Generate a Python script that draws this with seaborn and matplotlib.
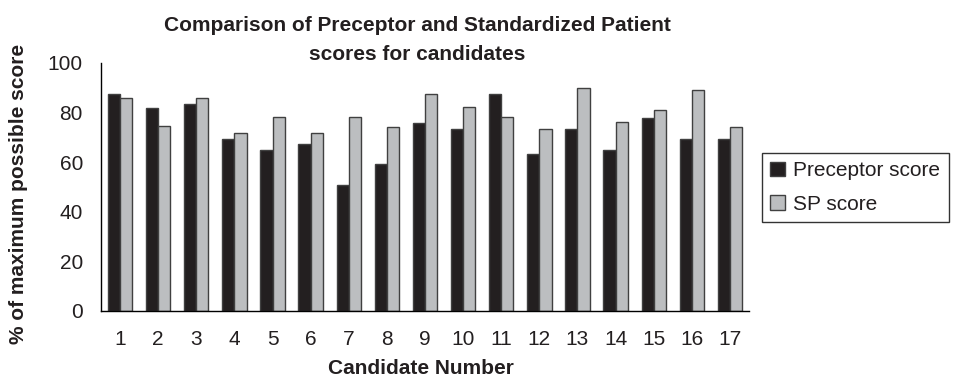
import matplotlib
matplotlib.use("Agg")
import matplotlib.pyplot as plt
import seaborn as sns
import pandas as pd
import numpy as np
from matplotlib.patches import Patch

candidates = [str(i) for i in range(1, 18)]
preceptor = [87.6, 81.7, 83.6, 69.4, 65.1, 67.4, 50.9, 59.4, 75.9, 73.5, 87.6, 63.4, 73.5, 65.1, 77.7, 69.4, 69.4]
sp = [85.7, 74.4, 85.7, 71.9, 78.1, 71.9, 78.1, 74.3, 87.5, 82.1, 78.1, 73.4, 89.8, 76.4, 81.2, 89.0, 74.3]
series = ["Preceptor score", "SP score"]
colors = ["#231f20", "#bcbec0"]

df = pd.DataFrame({
    "Candidate": candidates * 2,
    "Score": preceptor + sp,
    "Series": [series[0]] * len(candidates) + [series[1]] * len(candidates),
})

sns.set_style("white")
plt.rcParams["font.family"] = ["Liberation Sans", "DejaVu Sans"]

fig = plt.figure(figsize=(9.58, 3.79), dpi=100)
ax = fig.add_axes([101/958, 1-311/379, (749-101)/958, (311-63)/379])

sns.barplot(data=df, x="Candidate", y="Score", hue="Series", order=candidates,
            hue_order=series, palette=colors, width=0.64, dodge=True,
            edgecolor="#404040", linewidth=1.0, ax=ax, legend=False, saturation=1)

ax.set_ylim(0, 100)
ax.set_xlim(-0.5, 16.5)
ax.set_yticks([0, 20, 40, 60, 80, 100])
ax.tick_params(axis="y", which="major", direction="out", length=5, width=1, color="black",
               labelsize=15, pad=8, labelcolor="#231f20")
ax.tick_params(axis="x", which="major", length=0, labelsize=15, pad=14, labelcolor="#231f20")
ax.set_xticks(np.arange(-0.5, 17, 1), minor=True)
ax.tick_params(axis="x", which="minor", direction="out", length=5, width=1, color="black")

for s in ["top", "right"]:
    ax.spines[s].set_visible(False)
for s in ["left", "bottom"]:
    ax.spines[s].set_color("black")
    ax.spines[s].set_linewidth(1.0)

ax.set_xlabel("")
ax.set_ylabel("")
fig.text(421/958, 1-369/379, "Candidate Number", ha="center", va="center",
         fontsize=15, fontweight="bold", color="#231f20")
fig.text(19/958, 1-194/379, "% of maximum possible score", ha="center", va="center",
         rotation=90, fontsize=15, fontweight="bold", color="#231f20")

fig.text(417/958, 1-40/379, "Comparison of Preceptor and Standardized Patient\nscores for candidates",
         ha="center", va="center", fontsize=15, fontweight="bold", linespacing=1.65, color="#231f20")

handles = [Patch(facecolor=c, edgecolor="#404040", linewidth=1.0) for c in colors]
leg = fig.legend(handles, series, loc="upper left", bbox_to_anchor=(762/958, 1-153/379),
                 frameon=True, fancybox=False, fontsize=15, handlelength=0.72, handleheight=0.72,
                 handletextpad=0.38, borderpad=0.4, labelspacing=0.7, borderaxespad=0)
leg.get_frame().set_edgecolor("black")
leg.get_frame().set_linewidth(1.0)
for t in leg.get_texts():
    t.set_color("#231f20")

fig.savefig("out.png", dpi=100)
